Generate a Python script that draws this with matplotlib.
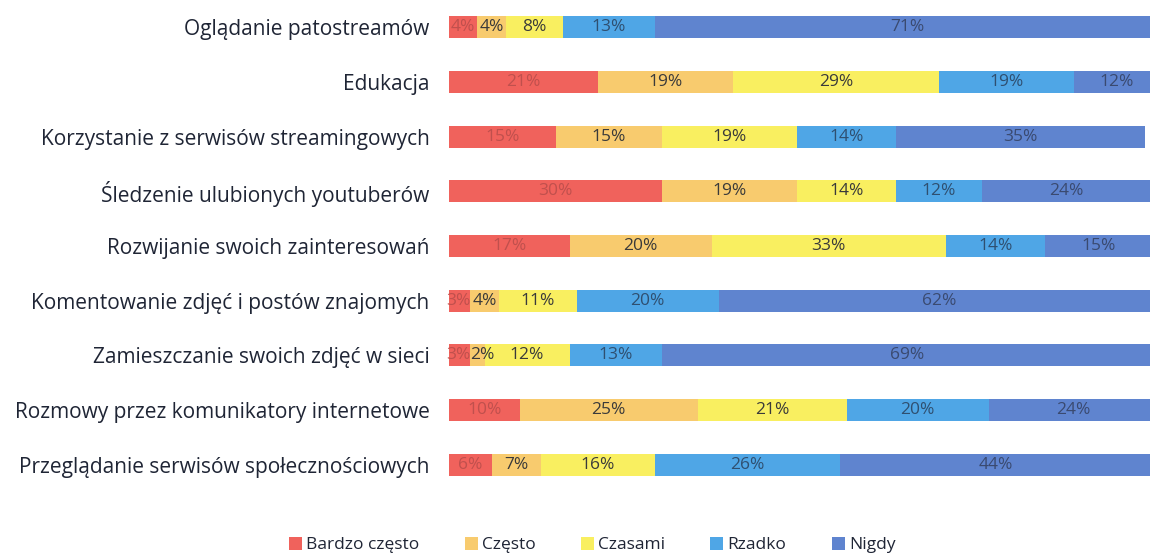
import matplotlib
matplotlib.use("Agg")
import matplotlib.pyplot as plt
import numpy as np

plt.rcParams['font.family'] = ['Open Sans', 'DejaVu Sans']

categories = [
    "Oglądanie patostreamów",
    "Edukacja",
    "Korzystanie z serwisów streamingowych",
    "Śledzenie ulubionych youtuberów",
    "Rozwijanie swoich zainteresowań",
    "Komentowanie zdjęć i postów znajomych",
    "Zamieszczanie swoich zdjęć w sieci",
    "Rozmowy przez komunikatory internetowe",
    "Przeglądanie serwisów społecznościowych",
]
series_names = ["Bardzo często", "Często", "Czasami", "Rzadko", "Nigdy"]
bardzo_czesto = [4, 21, 15, 30, 17, 3, 3, 10, 6]
czesto = [4, 19, 15, 19, 20, 4, 2, 25, 7]
czasami = [8, 29, 19, 14, 33, 11, 12, 21, 16]
rzadko = [13, 19, 14, 12, 14, 20, 13, 20, 26]
nigdy = [71, 12, 35, 24, 15, 62, 69, 24, 44]

colors = ["#F0625C", "#F8CB6E", "#F9EF60", "#4FA6E6", "#5F84CF"]
text_colors = ["#C0504D", "#3A3A3A", "#3A3A3A", "#2F4F70", "#3A4A70"]

fig = plt.figure(figsize=(11.5, 5.54), dpi=100)
ax = fig.add_axes([449/1150, 1 - 492/554, 710/1150, 492/554])

data = [bardzo_czesto, czesto, czasami, rzadko, nigdy]
y = np.arange(len(categories))
left = np.zeros(len(categories))
for si, (vals, name, c, tc) in enumerate(zip(data, series_names, colors, text_colors)):
    vals = np.array(vals, dtype=float)
    ax.barh(y, vals, left=left, height=0.4, color=c, label=name, edgecolor='none')
    for yi, l, v in zip(y, left, vals):
        if v < 4 and si == 0:
            x, ha = l + v, 'right'
        elif v < 4:
            x, ha = l, 'left'
        else:
            x, ha = l + v / 2, 'center'
        ax.text(x, yi, f"{int(v)}%", ha=ha, va='center',
                fontsize=12.5, color=tc)
    left += vals

ax.set_xlim(0, 100)
ax.set_ylim(len(categories) - 0.5, -0.5)
ax.set_yticks(y)
ax.set_yticklabels(categories, fontsize=15, color="#1F2535")
ax.tick_params(axis='y', length=0, pad=14)
ax.set_xticks([])
for s in ax.spines.values():
    s.set_visible(False)

handles, labels = ax.get_legend_handles_labels()
fig.legend(handles, labels, loc='center', bbox_to_anchor=(0.515, 1 - 545/554),
           ncol=5, frameon=False, fontsize=12.5, handlelength=0.75, handleheight=0.75,
           handletextpad=0.25, columnspacing=2.6, labelcolor="#1F2535")

fig.savefig("out.png", dpi=100)
